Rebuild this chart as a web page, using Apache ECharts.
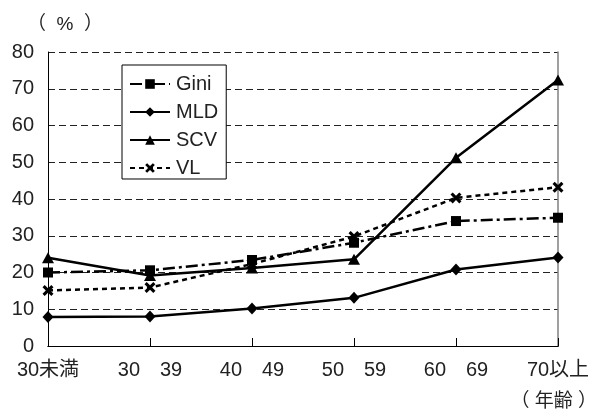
<!DOCTYPE html>
<html>
<head>
<meta charset="utf-8">
<script src="https://cdn.jsdelivr.net/npm/echarts@6/dist/echarts.min.js"></script>
<style>
  html, body { margin: 0; padding: 0; background: #fff; }
  #chart { width: 597px; height: 414px; }
</style>
</head>
<body>
<div id="chart"></div>
<script>
// Age groups (x axis)
const categories = ['30未満', '30　39', '40　49', '50　59', '60　69', '70以上'];
// Inequality measures by age group (%)
const gini = [20.0, 20.6, 23.4, 28.1, 34.0, 34.9];
const mld  = [7.9, 8.0, 10.2, 13.1, 20.8, 24.1];
const scv  = [24.0, 19.2, 21.2, 23.6, 51.2, 72.4];
const vl   = [15.1, 15.9, 22.3, 29.8, 40.3, 43.2];
// Y axis range
const yMin = 0, yMax = 80, yStep = 10;

const FONT = "'Liberation Sans', 'Noto Sans CJK JP', sans-serif";
const TEXT = '#222';
const crossPath = 'path://M0,2 L2,0 L5,3 L8,0 L10,2 L7,5 L10,8 L8,10 L5,7 L2,10 L0,8 L3,5 Z';

function lineSeries(name, data, symbol, size, dash) {
  return {
    name: name,
    type: 'line',
    data: data,
    symbol: symbol,
    symbolSize: size,
    showAllSymbol: true,
    lineStyle: { color: '#000', width: 2.5, type: dash },
    itemStyle: { color: '#000' },
    emphasis: { disabled: true },
    animation: false,
    z: 3
  };
}

const chart = echarts.init(document.getElementById('chart'), null, { renderer: 'canvas' });
chart.setOption({
  backgroundColor: '#fff',
  textStyle: { fontFamily: FONT, color: TEXT },
  grid: { left: 48, right: 39, top: 52, bottom: 68, containLabel: false },
  legend: {
    orient: 'vertical',
    left: 122,
    top: 65,
    padding: [9, 8, 1, 7],
    itemGap: 8,
    itemWidth: 40,
    itemHeight: 12,
    borderColor: '#000',
    borderWidth: 1,
    backgroundColor: '#fff',
    textStyle: { fontFamily: FONT, fontSize: 20, color: TEXT, padding: [0, 0, 0, 1] },
    data: ['Gini', 'MLD', 'SCV', 'VL'],
    z: 10
  },
  xAxis: [
    {
      type: 'category',
      data: categories,
      boundaryGap: false,
      axisLine: { lineStyle: { color: '#000', width: 1 } },
      axisTick: { show: true, inside: true, length: 8, lineStyle: { color: '#000' } },
      axisLabel: { interval: 0, fontFamily: FONT, fontSize: 20, color: TEXT, margin: 14 },
      splitLine: { show: false }
    },
    {
      type: 'category',
      data: categories,
      position: 'top',
      boundaryGap: false,
      axisLine: { lineStyle: { color: '#000', width: 1 } },
      axisTick: { show: false },
      axisLabel: { show: false },
      splitLine: { show: false }
    }
  ],
  yAxis: [
    {
      type: 'value',
      min: yMin,
      max: yMax,
      interval: yStep,
      axisLine: { show: true, lineStyle: { color: '#000', width: 1 } },
      axisTick: { show: false },
      axisLabel: { fontFamily: FONT, fontSize: 20, color: TEXT, margin: 14 },
      splitLine: { show: true, lineStyle: { color: '#222', width: 1, type: [7, 4] } }
    },
    {
      type: 'value',
      min: yMin,
      max: yMax,
      interval: yStep,
      position: 'right',
      axisLine: { show: true, lineStyle: { color: '#808080', width: 1.5 } },
      axisTick: { show: false },
      axisLabel: { show: false },
      splitLine: { show: false }
    }
  ],
  series: [
    lineSeries('Gini', gini, 'rect', 10, [12, 4, 3, 4]),
    lineSeries('MLD', mld, 'diamond', [11, 12], 'solid'),
    lineSeries('SCV', scv, 'triangle', [12, 11], 'solid'),
    lineSeries('VL', vl, crossPath, 11, [5, 4])
  ],
  graphic: [
    {
      type: 'text',
      left: 27,
      top: 15,
      style: { text: '（  %  ）', font: '19px ' + FONT, fill: TEXT }
    },
    {
      type: 'text',
      right: 0,
      top: 392,
      style: { text: '（ 年齢 ）', font: '19px ' + FONT, fill: TEXT }
    }
  ]
});
</script>
</body>
</html>
